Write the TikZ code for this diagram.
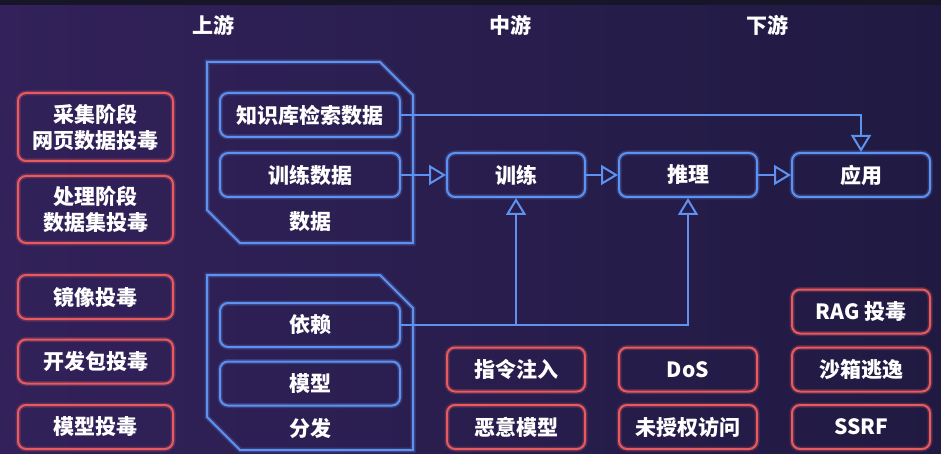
\documentclass[tikz,border=0pt]{standalone}
\usepackage{fontspec}
\setmainfont{Noto Sans CJK SC}
\usetikzlibrary{arrows.meta}
\definecolor{bgleft}{RGB}{50,33,90}
\definecolor{bgright}{RGB}{32,26,66}
\definecolor{bgtop}{RGB}{22,22,40}
\definecolor{linkblue}{RGB}{94,146,240}
\definecolor{warnred}{RGB}{232,90,94}

\begin{document}
\begin{tikzpicture}[x=1pt,y=-1pt,
  every node/.style={text=white,font=\fontsize{21}{26}\selectfont\bfseries,align=center,inner sep=0pt},
  riskbox/.style={draw=warnred,line width=2pt,rounded corners=8pt,minimum width=138pt,minimum height=44pt,
    preaction={draw=warnred,line width=5pt,opacity=0.25}},
  stagebox/.style={draw=linkblue,line width=2pt,rounded corners=8pt,minimum width=138pt,minimum height=44pt,
    preaction={draw=linkblue,line width=5pt,opacity=0.25}},
  shell/.style={draw=linkblue,line width=2pt,preaction={draw=linkblue,line width=5pt,opacity=0.25}},
  flow/.style={draw=linkblue,line width=2pt,-{Triangle[open,length=17pt,width=20pt]}}]
  \useasboundingbox (0,0) rectangle (941,454);
  \shade[left color=bgleft,right color=bgright] (0,0) rectangle (941,454);
  \fill[bgtop] (0,0) rectangle (941,5);
  % stages
  \path (213,25) node (up) {上游} (510,25) node (mid) {中游} (767,25) node (down) {下游};
  % data and supply chain
  \draw[shell] (207,62) -- (380,62) -- (413,95) -- (413,243) -- (240,243) -- (207,210) -- cycle;
  \draw[shell] (207,275) -- (380,275) -- (413,308) -- (413,450) -- (240,450) -- (207,417) -- cycle;
  \path (310,115) node[stagebox,minimum width=180pt] (kb) {知识库检索数据}
  (310,175) node[stagebox,minimum width=180pt] (traindata) {训练数据}
  (310,222) node (datalabel) {数据}
  (310,325) node[stagebox,minimum width=180pt] (dep) {依赖}
  (310,383.5) node[stagebox,minimum width=180pt] (mdl) {模型}
  (310,428) node (dist) {分发};
  \path (516,175) node[stagebox] (train) {训练} (688,175) node[stagebox] (infer) {推理}
  (861,175) node[stagebox] (app) {应用};
  % risks
  \path (95.5,127) node[riskbox,minimum width=155pt,minimum height=68pt] (webpoison) {采集阶段\\网页数据投毒}
  (95.5,209.5) node[riskbox,minimum width=155pt,minimum height=67pt] (setpoison) {处理阶段\\数据集投毒}
  (95.5,297) node[riskbox,minimum width=155pt] (imgpoison) {镜像投毒}
  (95.5,361.5) node[riskbox,minimum width=155pt] (pkgpoison) {开发包投毒}
  (95.5,427) node[riskbox,minimum width=155pt] (mdlpoison) {模型投毒};
  \path (516,369.5) node[riskbox] (inject) {指令注入} (516,427) node[riskbox] (evil) {恶意模型}
  (688,369.5) node[riskbox] (dos) {DoS} (688,427) node[riskbox] (unauth) {未授权访问}
  (861,311.5) node[riskbox] (rag) {RAG 投毒} (861,369.5) node[riskbox] (sandbox) {沙箱逃逸}
  (861,427) node[riskbox] (ssrf) {SSRF};
  % links
  \draw[flow] (kb.east) -| (app.north);
  \draw[flow] (traindata) -- (train);
  \draw[flow] (train) -- (infer);
  \draw[flow] (infer) -- (app);
  \draw[flow] (dep.east) -| (infer.south);
  \draw[flow] (train.south |- dep.east) -- (train.south);
\end{tikzpicture}
\end{document}
